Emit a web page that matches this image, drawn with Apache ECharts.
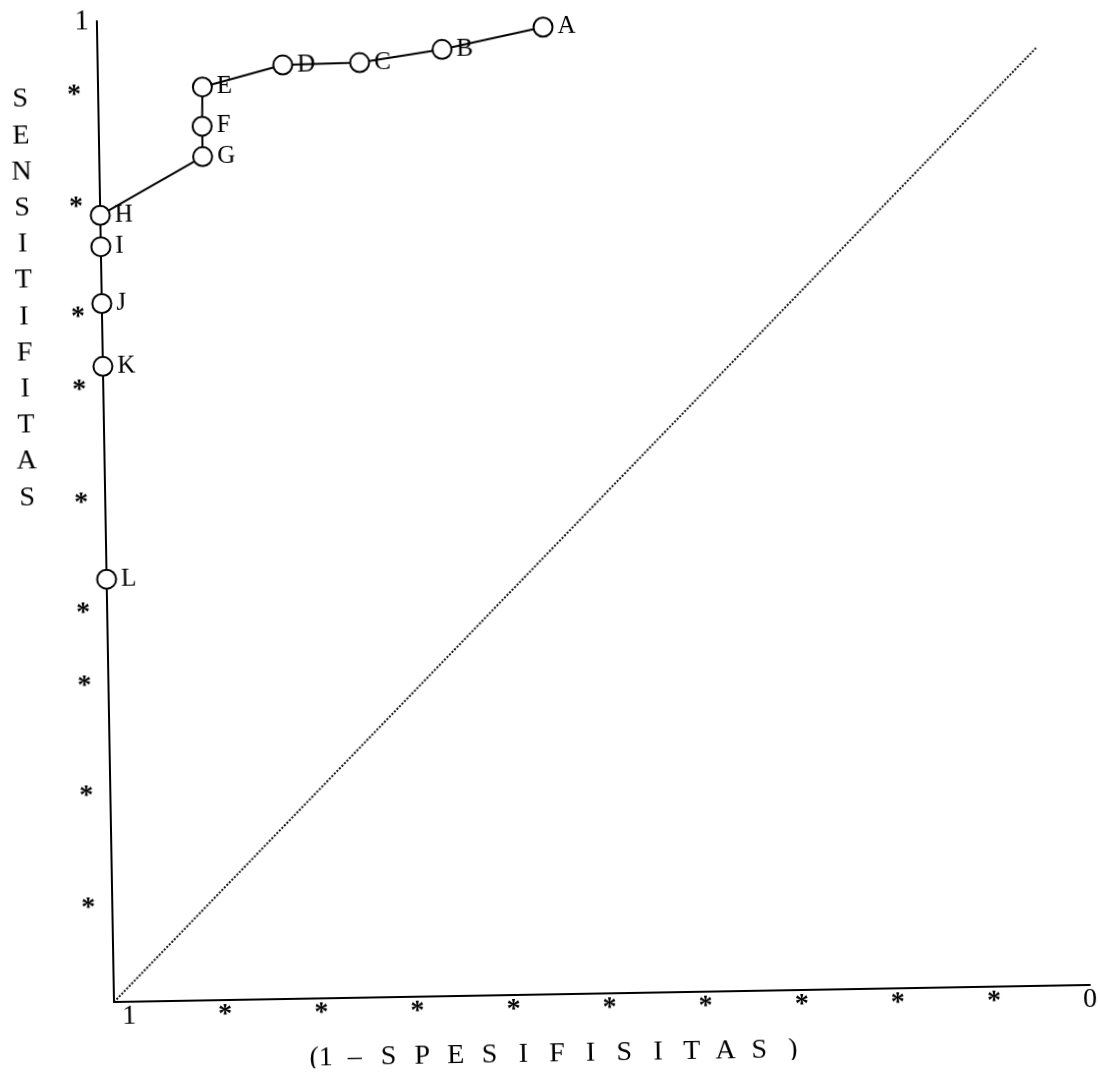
<!DOCTYPE html>
<html><head><meta charset="utf-8">
<script src="https://cdn.jsdelivr.net/npm/echarts@6/dist/echarts.min.js"></script>
<style>
html,body{margin:0;padding:0;background:#fff;overflow:hidden}
#chart{width:1100px;height:1072px;transform:rotate(-1deg);transform-origin:114px 1002px}
</style></head><body>
<div id="chart"></div>
<script>
// ROC points (x = specificity axis, running 1 -> 0 left to right; y = sensitivity)
const pointNames = ['A','B','C','D','E','F','G','H','I','J','K','L'];
const xValues = [0.5515, 0.657, 0.743, 0.823, 0.907, 0.908, 0.908, 1.0156, 1.0156, 1.0156, 1.0156, 1.0156];
const yValues = [0.986, 0.965, 0.953, 0.952, 0.931, 0.891, 0.860, 0.802, 0.770, 0.712, 0.648, 0.431];
// dotted reference diagonal
const diagonalX = [1.0156, 0.039];
const diagonalY = [0, 0.956];
// tick labels
const xTickValues = [0, 0.1, 0.2, 0.3, 0.4, 0.5, 0.6, 0.7, 0.8, 0.9, 1];
const xTickLabels = ['0', '*', '*', '*', '*', '*', '*', '*', '*', '*', '1'];
const yTickValues = [0.1014, 0.2155, 0.3277, 0.4021, 0.5143, 0.6295, 0.7039, 0.8162, 0.9304, 1];
const yTickLabels = ['*', '*', '*', '*', '*', '*', '*', '*', '*', '1'];
const xAxisMax = 1.0156;
// axis titles
const xTitleChars = ['(1', '\u2013', 'S', 'P', 'E', 'S', 'I', 'F', 'I', 'S', 'I', 'T', 'A', 'S', ')'];
const yTitleChars = ['S', 'E', 'N', 'S', 'I', 'T', 'I', 'F', 'I', 'T', 'A', 'S'];

const FONT = 'Liberation Serif';
const chart = echarts.init(document.getElementById('chart'), null, {renderer: 'canvas'});

function labelFor(values, labels, v) {
  for (let i = 0; i < values.length; i++) {
    if (Math.abs(values[i] - v) < 1e-6) return labels[i];
  }
  return '';
}

const option = {
  backgroundColor: '#ffffff',
  animation: false,
  title: [
    {
      text: yTitleChars.join('\n'),
      left: 36, top: 80, textAlign: 'center', padding: 0,
      textStyle: {fontFamily: FONT, fontSize: 28, fontWeight: 'normal', color: '#000', lineHeight: 36.2}
    },
    {
      text: xTitleChars.map(c => '{c|' + c + '}').join(''),
      left: 556, top: 1047, textAlign: 'center', padding: 0,
      textStyle: {
        fontFamily: FONT, fontSize: 28, fontWeight: 'normal', color: '#000',
        rich: {c: {width: 33.7, align: 'center', fontFamily: FONT, fontSize: 28, color: '#000', lineHeight: 30}}
      }
    }
  ],
  grid: {left: 114, right: 10, top: 21, bottom: 70, containLabel: false, outerBoundsMode: 'none'},
  xAxis: {
    type: 'value', inverse: true, min: 0, max: xAxisMax,
    axisLine: {show: true, onZero: false, lineStyle: {color: '#000', width: 2}},
    axisTick: {show: false},
    splitLine: {show: false},
    axisLabel: {
      show: true, margin: 1, customValues: xTickValues,
      showMinLabel: true, showMaxLabel: true, hideOverlap: false,
      formatter: v => {
        const t = labelFor(xTickValues, xTickLabels, v);
        return t === '*' ? '{s|*}' : (t ? '{d|' + t + '}' : '');
      },
      rich: {
        s: {fontFamily: FONT, fontSize: 28, fontWeight: 'bold', color: '#000', lineHeight: 28},
        d: {fontFamily: FONT, fontSize: 28, color: '#000', lineHeight: 28}
      }
    }
  },
  yAxis: {
    type: 'value', min: 0, max: 1,
    axisLine: {show: true, onZero: false, lineStyle: {color: '#000', width: 2}},
    axisTick: {show: false},
    splitLine: {show: false},
    axisLabel: {
      show: true, margin: 8, customValues: yTickValues,
      showMinLabel: true, showMaxLabel: true, hideOverlap: false,
      formatter: v => {
        const t = labelFor(yTickValues, yTickLabels, v);
        return t === '*' ? '{s|*}' : (t ? '{d|' + t + '}' : '');
      },
      rich: {
        s: {fontFamily: FONT, fontSize: 28, fontWeight: 'bold', color: '#000', lineHeight: 28, padding: [10, 9, 0, 0]},
        d: {fontFamily: FONT, fontSize: 29, color: '#000', lineHeight: 28}
      }
    }
  },
  series: [
    {
      type: 'line', name: 'diagonal',
      data: diagonalX.map((x, i) => [x, diagonalY[i]]),
      symbol: 'none', silent: true, clip: false, z: 1,
      lineStyle: {color: '#111', width: 2, type: [2, 1.6]}
    },
    {
      type: 'line', name: 'ROC',
      data: xValues.map((x, i) => ({name: pointNames[i], value: [x, yValues[i]]})),
      symbol: 'circle', symbolSize: 19, showAllSymbol: true, clip: false, z: 3,
      lineStyle: {color: '#000', width: 2},
      itemStyle: {color: '#fff', borderColor: '#000', borderWidth: 2},
      label: {
        show: true, position: 'right', distance: 4,
        formatter: p => pointNames[p.dataIndex],
        fontFamily: FONT, fontSize: 25, color: '#000'
      }
    }
  ]
};
chart.setOption(option);
</script>
</body></html>
